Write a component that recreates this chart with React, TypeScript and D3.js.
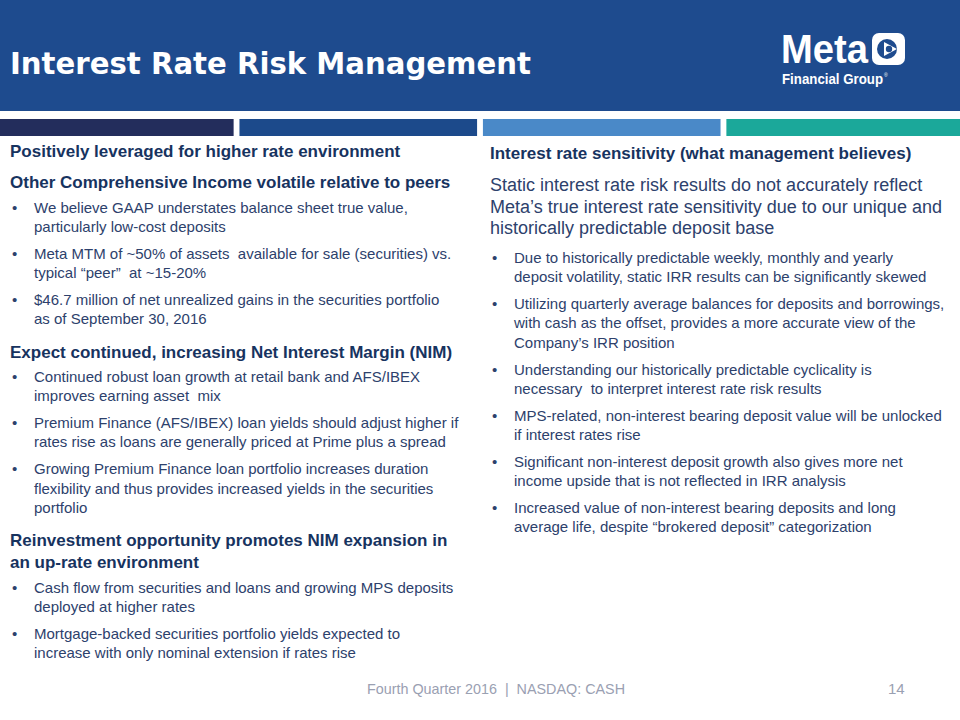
import React from "react";
import * as d3 from "d3";

const TITLE = "Interest Rate Risk Management";
const LOGO_WORD = "Meta";
const LOGO_SUB = "Financial Group";
const FOOTER = "Fourth Quarter 2016  |  NASDAQ: CASH";
const PAGE = "14";

const stripeKeys = ["navy", "blue", "sky", "teal"];
const stripeColors = ["#232d5c", "#1c4a8b", "#4a89c8", "#1ba89a"];

type Block = { kind: "h" | "p" | "b"; lines: string[] };

const leftBlocks: Block[] = [
  { kind: "h", lines: ["Positively leveraged for higher rate environment"] },
  { kind: "h", lines: ["Other Comprehensive Income volatile relative to peers"] },
  { kind: "b", lines: ["We believe GAAP understates balance sheet true value,", "particularly low-cost deposits"] },
  { kind: "b", lines: ["Meta MTM of ~50% of assets  available for sale (securities) vs.", "typical \u201cpeer\u201d  at ~15-20%"] },
  { kind: "b", lines: ["$46.7 million of net unrealized gains in the securities portfolio", "as of September 30, 2016"] },
  { kind: "h", lines: ["Expect continued, increasing Net Interest Margin (NIM)"] },
  { kind: "b", lines: ["Continued robust loan growth at retail bank and AFS/IBEX", "improves earning asset  mix"] },
  { kind: "b", lines: ["Premium Finance (AFS/IBEX) loan yields should adjust higher if", "rates rise as loans are generally priced at Prime plus a spread"] },
  { kind: "b", lines: ["Growing Premium Finance loan portfolio increases duration", "flexibility and thus provides increased yields in the securities", "portfolio"] },
  { kind: "h", lines: ["Reinvestment opportunity promotes NIM expansion in", "an up-rate environment"] },
  { kind: "b", lines: ["Cash flow from securities and loans and growing MPS deposits", "deployed at higher rates"] },
  { kind: "b", lines: ["Mortgage-backed securities portfolio yields expected to", "increase with only nominal extension if rates rise"] },
];

const rightBlocks: Block[] = [
  { kind: "h", lines: ["Interest rate sensitivity (what management believes)"] },
  { kind: "p", lines: ["Static interest rate risk results do not accurately reflect", "Meta\u2019s true interest rate sensitivity due to our unique and", "historically predictable deposit base"] },
  { kind: "b", lines: ["Due to historically predictable weekly, monthly and yearly", "deposit volatility, static IRR results can be significantly skewed"] },
  { kind: "b", lines: ["Utilizing quarterly average balances for deposits and borrowings,", "with cash as the offset, provides a more accurate view of the", "Company\u2019s IRR position"] },
  { kind: "b", lines: ["Understanding our historically predictable cyclicality is", "necessary  to interpret interest rate risk results"] },
  { kind: "b", lines: ["MPS-related, non-interest bearing deposit value will be unlocked", "if interest rates rise"] },
  { kind: "b", lines: ["Significant non-interest deposit growth also gives more net", "income upside that is not reflected in IRR analysis"] },
  { kind: "b", lines: ["Increased value of non-interest bearing deposits and long", "average life, despite \u201cbrokered deposit\u201d categorization"] },
];

const W = 960;
const H = 720;
const HEAD_C = "#17335f";
const BODY_C = "#2d416c";
const FONT = "'Liberation Sans', Arial, sans-serif";
const NARROW = "'Liberation Sans Narrow', 'Liberation Sans', Arial, sans-serif";

// spacing (baseline to baseline) between block kinds
function gap(prev: Block["kind"] | null, cur: Block["kind"]): number {
  if (prev === null) return 0;
  if (prev === "h" && cur === "h") return 31;
  if (prev === "h" && cur === "b") return 24.5;
  if (prev === "h" && cur === "p") return 32;
  if (prev === "b" && cur === "b") return 26.8;
  if (prev === "b" && cur === "h") return 33.5;
  if (prev === "p" && cur === "b") return 29;
  return 27;
}
const lineH = { h: 22, p: 21.5, b: 19.3 };
const fontSize = { h: 17, p: 18, b: 15 };

function layout(blocks: Block[], y0: number) {
  let y = y0;
  let prev: Block["kind"] | null = null;
  const out: { block: Block; ys: number[] }[] = [];
  blocks.forEach((b) => {
    y += gap(prev, b.kind);
    const ys = b.lines.map((_, i) => y + i * lineH[b.kind]);
    y = ys[ys.length - 1];
    prev = b.kind;
    out.push({ block: b, ys });
  });
  return out;
}

function Column({ blocks, x, y0 }: { blocks: Block[]; x: number; y0: number }) {
  const items = layout(blocks, y0);
  return (
    <g>
      {items.map(({ block, ys }, bi) => (
        <g key={bi}>
          {block.kind === "b" && (
            <text x={x + 2} y={ys[0]} fill={BODY_C} fontSize={15} fontFamily={FONT}>
              {"\u2022"}
            </text>
          )}
          {block.lines.map((ln, li) => (
            <text
              key={li}
              x={block.kind === "b" ? x + 24 : x}
              y={ys[li]}
              fill={block.kind === "h" ? HEAD_C : BODY_C}
              fontSize={fontSize[block.kind]}
              fontWeight={block.kind === "h" ? 700 : 400}
              fontFamily={FONT}
              style={{ whiteSpace: "pre" }}
            >
              {ln}
            </text>
          ))}
        </g>
      ))}
    </g>
  );
}

export default function App() {
  const stripeX = d3.scaleBand<string>().domain(stripeKeys).range([-4, 964]).paddingInner(0.024);
  return (
    <svg width={W} height={H} style={{ display: "block", position: "absolute", left: 0, top: 0 }}>
      <rect x={0} y={0} width={W} height={H} fill="#ffffff" />
      <rect x={0} y={0} width={W} height={111} fill="#1e4b8e" />
      <text x={10} y={74} fill="#ffffff" fontSize={30} fontWeight={700}
        fontFamily="'DejaVu Sans', 'Liberation Sans', Arial, sans-serif"
        textLength={521} lengthAdjust="spacingAndGlyphs">
        {TITLE}
      </text>
      {/* logo */}
      <g>
        <text x={781} y={63} fill="#ffffff" fontSize={40} fontWeight={700}
          fontFamily={NARROW} textLength={87} lengthAdjust="spacingAndGlyphs">
          {LOGO_WORD}
        </text>
        <rect x={872} y={33} width={33} height={32} rx={7} fill="#ffffff" />
        <circle cx={887} cy={49} r={10} fill="#1e4b8e" />
        <path d="M884,42 L897,49 L884,56 Z" fill="#ffffff" />
        <circle cx={889} cy={49} r={3.2} fill="#1e4b8e" />
        <text x={782} y={84} fill="#ffffff" fontSize={15} fontWeight={700} fontFamily={NARROW}>
          <tspan textLength={101} lengthAdjust="spacingAndGlyphs">{LOGO_SUB}</tspan>
          <tspan fontSize={5} fontWeight={400} dx={1} dy={-7}>®</tspan>
        </text>
      </g>
      {stripeKeys.map((k, i) => (
        <rect key={k} x={stripeX(k)} y={119} width={stripeX.bandwidth()} height={17} fill={stripeColors[i]} />
      ))}
      <Column blocks={leftBlocks} x={10} y0={157} />
      <Column blocks={rightBlocks} x={490} y0={159} />
      <text x={367} y={694} fill="#9aa0b2" fontSize={15} fontFamily={NARROW}
        textLength={258} lengthAdjust="spacingAndGlyphs" style={{ whiteSpace: "pre" }}>
        {FOOTER}
      </text>
      <text x={888} y={694} fill="#9aa0b2" fontSize={15} fontFamily={NARROW}>
        {PAGE}
      </text>
    </svg>
  );
}
